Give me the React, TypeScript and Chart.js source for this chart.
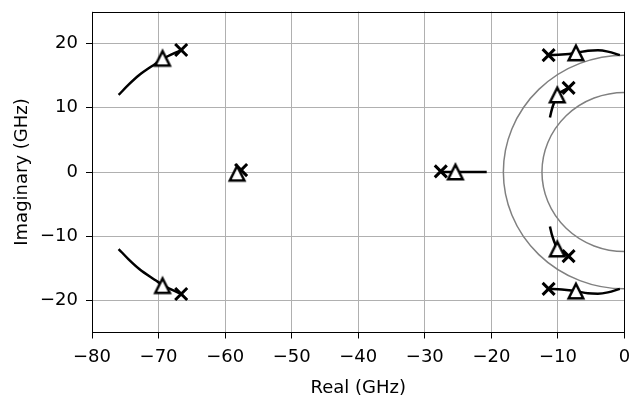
import React, { useEffect, useRef } from 'react';
import { Chart, registerables } from 'chart.js';

Chart.register(...registerables);

// ---- data ----
const xTicks = [-80, -70, -60, -50, -40, -30, -20, -10, 0];
const yTicks = [-20, -10, 0, 10, 20];
const circleRadii = [18.2, 12.4];

const locusUpperLeft = [[-76, 12], [-74.5, 13.6], [-72.9, 15.1], [-70.4, 16.9], [-69.4, 17.6], [-66.6, 19.0]];
const locusLowerLeft = [[-76, -12], [-74.5, -13.6], [-72.9, -15.1], [-70.4, -16.9], [-69.4, -17.6], [-66.6, -19.0]];
const locusMidLeft = [[-58.2, -0.2], [-57.6, 0.3]];
const locusMidRight = [[-27.6, 0], [-20.7, 0]];
const locusUpperRight = [[-11.4, 18.2], [-9.4, 18.3], [-7.3, 18.55], [-5.5, 18.9], [-4.0, 18.95], [-2.5, 18.75], [-0.7, 18.2]];
const locusLowerRight = [[-11.4, -18.2], [-9.4, -18.3], [-7.3, -18.55], [-5.5, -18.9], [-4.0, -18.95], [-2.5, -18.75], [-0.7, -18.2]];
const locusUpperInner = [[-11.2, 8.5], [-10.9, 9.8], [-10.5, 11.0], [-10.1, 12.0], [-9.3, 12.6], [-8.4, 13.1]];
const locusLowerInner = [[-11.2, -8.5], [-10.9, -9.8], [-10.5, -11.0], [-10.1, -12.0], [-9.3, -12.6], [-8.4, -13.1]];

const crossPoints = [[-66.6, 19.0], [-66.6, -19.0], [-57.6, 0.3], [-27.6, 0.1], [-11.4, 18.2], [-8.4, 13.1], [-11.4, -18.2], [-8.4, -13.1]];
const trianglePoints = [[-69.4, 17.7], [-69.4, -17.7], [-58.2, -0.2], [-25.4, 0], [-7.3, 18.55], [-10.1, 12.0], [-10.1, -12.0], [-7.3, -18.55]];

const curves = [locusUpperLeft, locusLowerLeft, locusMidLeft, locusMidRight, locusUpperRight, locusLowerRight, locusUpperInner, locusLowerInner];

const toXY = (arr: number[][]) => arr.map(([x, y]) => ({ x, y }));
const fmt = (v: number) => (v < 0 ? '\u2212' + Math.abs(v) : String(v));

const FONT = { family: 'DejaVu Sans', size: 18, lineHeight: 1.2 };

function makeTriangle(): HTMLCanvasElement {
  const c = document.createElement('canvas');
  c.width = 24;
  c.height = 24;
  const g = c.getContext('2d')!;
  const m = 12, h = 7.3;
  g.beginPath();
  g.moveTo(m, m - h);
  g.lineTo(m - h, m + h);
  g.lineTo(m + h, m + h);
  g.closePath();
  g.fillStyle = '#ffffff';
  g.fill();
  g.lineWidth = 2.5;
  g.lineJoin = 'miter';
  g.strokeStyle = '#000000';
  g.stroke();
  return c;
}

const circlePlugin = {
  id: 'circles',
  beforeDatasetsDraw(chart: any) {
    const { ctx, chartArea, scales } = chart;
    const xs = scales.x, ys = scales.y;
    ctx.save();
    ctx.beginPath();
    ctx.rect(chartArea.left, chartArea.top, chartArea.right - chartArea.left, chartArea.bottom - chartArea.top);
    ctx.clip();
    ctx.strokeStyle = '#808080';
    ctx.lineWidth = 1.5;
    const cx = xs.getPixelForValue(0);
    const cy = ys.getPixelForValue(0);
    for (const r of circleRadii) {
      const rx = Math.abs(xs.getPixelForValue(r) - cx);
      const ry = Math.abs(ys.getPixelForValue(r) - cy);
      ctx.beginPath();
      ctx.ellipse(cx, cy, rx, ry, 0, 0, Math.PI * 2);
      ctx.stroke();
    }
    ctx.restore();
  },
};

const framePlugin = {
  id: 'frame',
  afterDatasetsDraw(chart: any) {
    const { ctx, chartArea } = chart;
    ctx.save();
    ctx.strokeStyle = '#000';
    ctx.lineWidth = 1;
    const l = Math.round(chartArea.left) + 0.5;
    const t = Math.round(chartArea.top) + 0.5;
    const r = Math.round(chartArea.right) - 0.5;
    const b = Math.round(chartArea.bottom) - 0.5;
    ctx.strokeRect(l, t, r - l, b - t);
    ctx.restore();
  },
};

export default function App() {
  const ref = useRef<HTMLCanvasElement | null>(null);

  useEffect(() => {
    document.body.style.margin = '0';
    const tri = makeTriangle();
    const datasets: any[] = curves.map((c) => ({
      data: toXY(c),
      showLine: true,
      borderColor: '#000',
      borderWidth: 2.5,
      pointRadius: 0,
      cubicInterpolationMode: 'monotone',
      order: 2,
    }));
    datasets.push({
      data: toXY(crossPoints),
      showLine: false,
      pointStyle: 'crossRot',
      pointRadius: 8.5,
      pointBorderWidth: 3,
      borderColor: '#000',
      pointBorderColor: '#000',
      order: 1,
    });
    datasets.push({
      data: toXY(trianglePoints),
      showLine: false,
      pointStyle: tri,
      pointRadius: 10,
      order: 0,
    });

    const axisCommon = (ticks: number[], title: string, fit: (s: any) => void, tickPad: number) => ({
      type: 'linear',
      afterBuildTicks: (s: any) => {
        s.ticks = ticks.map((v) => ({ value: v }));
      },
      afterFit: fit,
      border: { display: false },
      grid: {
        color: '#b0b0b0',
        lineWidth: 1,
        drawTicks: true,
        tickColor: '#000',
        tickLength: 6,
      },
      ticks: {
        color: '#000',
        font: FONT,
        autoSkip: false,
        maxRotation: 0,
        padding: tickPad,
        callback: (v: any) => fmt(Number(v)),
      },
      title: {
        display: true,
        text: title,
        color: '#000',
        font: FONT,
        padding: { top: 0, bottom: 0 },
      },
    });

    const xAxis: any = axisCommon(xTicks, 'Real (GHz)', (s: any) => {
      s.height = 63.5;
      s.paddingLeft = 0;
      s.paddingRight = 0;
    }, 8);
    xAxis.min = -80;
    xAxis.max = 0;
    xAxis.title.font = { family: 'DejaVu Sans', size: 18, lineHeight: 0.9 };
    xAxis.title.padding = { top: 0, bottom: 0 };
    const yAxis: any = axisCommon(yTicks, 'Imaginary (GHz)', (s: any) => {
      s.width = 92;
      s.paddingTop = 0;
      s.paddingBottom = 0;
    }, 8);
    yAxis.min = -25;
    yAxis.max = 25;
    yAxis.title.padding = { top: 11.7, bottom: 0 };

    const chart = new Chart(ref.current!, {
      type: 'scatter',
      data: { datasets },
      options: {
        animation: false,
        responsive: false,
        maintainAspectRatio: false,
        layout: { padding: { top: 7.5, right: 8, left: 0, bottom: 0 } },
        plugins: { legend: { display: false }, tooltip: { enabled: false } },
        scales: { x: xAxis, y: yAxis },
      } as any,
      plugins: [circlePlugin, framePlugin],
    });
    return () => chart.destroy();
  }, []);

  return (
    <div style={{ width: 636, height: 396 }}>
      <canvas ref={ref} width={636} height={396} style={{ display: 'block' }} />
    </div>
  );
}
